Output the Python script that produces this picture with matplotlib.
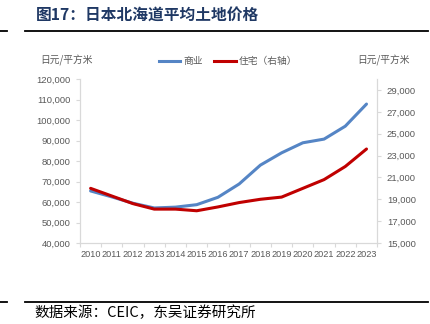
import matplotlib
matplotlib.use("Agg")
import matplotlib.pyplot as plt
from matplotlib.ticker import FuncFormatter, FixedLocator
from matplotlib.lines import Line2D

years = [str(y) for y in range(2010, 2024)]
commercial = [65400, 62500, 59400, 57100, 57500, 58700, 62300, 68800,
              78000, 84000, 88900, 90700, 97000, 107800]
residential = [20000, 19300, 18600, 18100, 18100, 17950, 18300, 18700,
               19000, 19200, 20000, 20800, 22000, 23600]

BLUE = "#5585C5"
RED = "#C00000"
GREY = "#595959"
AXC = "#D9D9D9"
CJK = ["Noto Sans CJK SC", "DejaVu Sans"]
NUM = ["Liberation Sans", "DejaVu Sans"]

fig = plt.figure(figsize=(4.3, 3.24), dpi=100)
fig.patch.set_facecolor("white")

# header / footer
fig.text(0.083, 0.953, "图17：日本北海道平均土地价格", family=CJK, fontsize=11.3,
         fontweight="bold", color="#1F3864", va="center")
fig.text(0.08, 0.034, "数据来源：CEIC，东吴证券研究所", family=CJK, fontsize=10.5,
         color="black", va="center")
for yy in (0.904, 0.068):
    fig.add_artist(Line2D([0.0, 0.016], [yy, yy], color="black", lw=1.3))
    fig.add_artist(Line2D([0.058, 0.995], [yy, yy], color="black", lw=1.3))

ax = fig.add_axes([0.186, 0.25, 0.691, 0.506])
ax2 = ax.twinx()
x = list(range(len(years)))
ax.plot(x, commercial, color=BLUE, lw=2.2, solid_capstyle="round", zorder=3)
ax2.plot(x, residential, color=RED, lw=2.2, solid_capstyle="round", zorder=3)

ax.set_xlim(-0.5, len(years) - 0.5)
ax.set_ylim(40000, 120000)
ax.set_yticks(range(40000, 120001, 10000))
ax2.set_ylim(15000, 30000)
ax2.set_yticks(range(15000, 29001, 2000))
fmt = FuncFormatter(lambda v, p: f"{int(v):,}")
ax.yaxis.set_major_formatter(fmt)
ax2.yaxis.set_major_formatter(fmt)

ax.set_xticks(x)
ax.set_xticklabels(years)
ax.xaxis.set_minor_locator(FixedLocator([i - 0.5 for i in range(len(years) + 1)]))
ax.tick_params(axis="x", which="major", length=0, pad=5, labelsize=6.6, colors=GREY)
ax.tick_params(axis="x", which="minor", length=3, color=AXC, width=0.8)
ax.tick_params(axis="y", length=3, color=AXC, width=0.8, labelsize=6.8, labelcolor=GREY, pad=4)
ax2.tick_params(axis="y", length=3, color=AXC, width=0.8, labelsize=6.8, labelcolor=GREY, pad=4)
for lab in ax.get_xticklabels() + ax.get_yticklabels() + ax2.get_yticklabels():
    lab.set_family(NUM)

for a in (ax, ax2):
    for s in a.spines.values():
        s.set_color(AXC)
        s.set_linewidth(0.8)
    a.spines["top"].set_visible(False)

fig.text(0.093, 0.812, "日元/平方米", family=CJK, fontsize=7, color=GREY, va="center")
fig.text(0.83, 0.812, "日元/平方米", family=CJK, fontsize=7, color=GREY, va="center")

handles = [Line2D([], [], color=BLUE, lw=2.2), Line2D([], [], color=RED, lw=2.2)]
fig.legend(handles, ["商业", "住宅（右轴）"], loc="center", bbox_to_anchor=(0.53, 0.812),
           ncol=2, frameon=False, prop={"family": CJK, "size": 7}, labelcolor=GREY,
           handlelength=2.2, handletextpad=0.3, columnspacing=1.2)

fig.savefig("out.png", dpi=100)
